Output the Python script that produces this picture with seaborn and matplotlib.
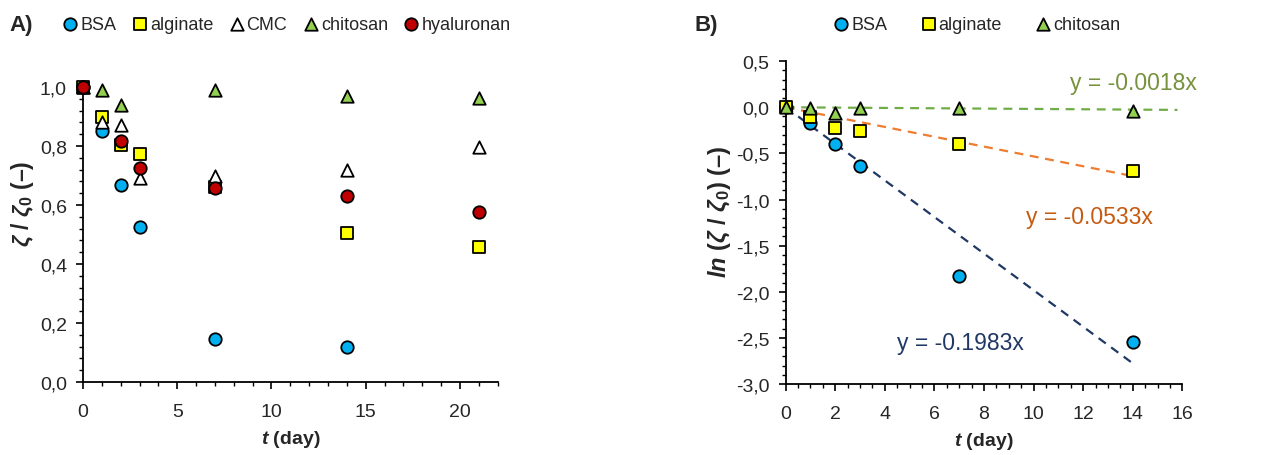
import matplotlib
matplotlib.use('Agg')
import matplotlib.pyplot as plt
from matplotlib.ticker import MultipleLocator, FuncFormatter
import seaborn as sns
import numpy as np

# ---- data ----
# panel A: zeta / zeta0 vs t
t_bsa_a = [0, 1, 2, 3, 7, 14]
bsa_a = [1.0, 0.85, 0.668, 0.526, 0.146, 0.12]
t_alg_a = [0, 1, 2, 3, 7, 14, 21]
alg_a = [1.0, 0.90, 0.805, 0.773, 0.66, 0.505, 0.459]
t_cmc_a = [0, 1, 2, 3, 7, 14, 21]
cmc_a = [1.0, 0.88, 0.87, 0.69, 0.70, 0.72, 0.797]
t_chi_a = [0, 1, 2, 7, 14, 21]
chi_a = [1.0, 0.99, 0.94, 0.99, 0.97, 0.963]
t_hya_a = [0, 2, 3, 7, 14, 21]
hya_a = [1.0, 0.817, 0.725, 0.657, 0.632, 0.576]

# panel B: ln(zeta / zeta0) vs t
t_b = [0, 1, 2, 3, 7, 14]
bsa_b = [0.0, -0.17, -0.40, -0.636, -1.83, -2.54]
alg_b = [0.0, -0.11, -0.22, -0.26, -0.40, -0.69]
chi_b = [0.0, -0.01, -0.06, -0.01, -0.01, -0.04]

# zero-intercept trend lines
slopes = {'BSA': -0.1983, 'alginate': -0.0533, 'chitosan': -0.0018}
fit_end = {'BSA': 14, 'alginate': 14, 'chitosan': 15.8}

colors = {'BSA': '#00B0F0', 'alginate': '#FFFF00', 'CMC': '#FFFFFF',
          'chitosan': '#92D050', 'hyaluronan': '#C00000'}
markers = {'BSA': 'o', 'alginate': 's', 'CMC': '^', 'chitosan': '^', 'hyaluronan': 'o'}
line_colors = {'BSA': '#1F3864', 'alginate': '#ED7D31', 'chitosan': '#70AD47'}
text_colors = {'BSA': '#1F3864', 'alginate': '#C55A11', 'chitosan': '#76923C'}

sns.set_style('ticks')
plt.rcParams['font.family'] = ['Liberation Sans', 'DejaVu Sans']
plt.rcParams['mathtext.fontset'] = 'custom'
plt.rcParams['mathtext.it'] = 'Liberation Sans:italic:bold'
plt.rcParams['mathtext.rm'] = 'Liberation Sans:bold'
plt.rcParams['mathtext.bf'] = 'Liberation Sans:bold'

fig = plt.figure(figsize=(12.88, 4.56), dpi=100)
axA = fig.add_axes([0.0644, 0.160, 0.322, 0.647])
axB = fig.add_axes([0.610, 0.1557, 0.308, 0.708])

comma = FuncFormatter(lambda v, p: f'{v:.1f}'.replace('.', ','))


def scatter(ax, x, y, name):
    sns.scatterplot(x=x, y=y, ax=ax, marker=markers[name], color=colors[name],
                    edgecolor='black', linewidth=1.3, s=80, label=name,
                    zorder=5, clip_on=False, legend=False)


# panel A
scatter(axA, t_bsa_a, bsa_a, 'BSA')
scatter(axA, t_alg_a, alg_a, 'alginate')
scatter(axA, t_cmc_a, cmc_a, 'CMC')
scatter(axA, t_chi_a, chi_a, 'chitosan')
scatter(axA, t_hya_a, hya_a, 'hyaluronan')

axA.set_xlim(0, 22)
axA.set_ylim(0, 1.0)
axA.xaxis.set_major_locator(MultipleLocator(5))
axA.xaxis.set_minor_locator(MultipleLocator(1))
axA.yaxis.set_major_locator(MultipleLocator(0.2))
axA.yaxis.set_minor_locator(MultipleLocator(0.04))
axA.yaxis.set_major_formatter(comma)
axA.set_xlabel(r'$t$ (day)', fontsize=14, fontweight='bold', labelpad=6)
axA.set_ylabel(r'$\zeta$ / $\zeta_0$ (–)', fontsize=16.5, fontweight='bold')
axA.yaxis.set_label_coords(-0.112, 0.607)

# panel B
scatter(axB, t_b, bsa_b, 'BSA')
scatter(axB, t_b, alg_b, 'alginate')
scatter(axB, t_b, chi_b, 'chitosan')
hB, lB = axB.get_legend_handles_labels()

for name in ['BSA', 'alginate', 'chitosan']:
    xs = np.array([0, fit_end[name]])
    sns.lineplot(x=xs, y=slopes[name] * xs, ax=axB, color=line_colors[name],
                 linestyle=(0, (4, 3)), linewidth=1.6, zorder=3, legend=False)
if axB.get_legend() is not None:
    axB.get_legend().remove()

axB.text(16.6, 0.27, 'y = -0.0018x', color=text_colors['chitosan'], fontsize=16.5,
         ha='right', va='center', clip_on=False)
axB.text(9.7, -1.18, 'y = -0.0533x', color=text_colors['alginate'], fontsize=16.5,
         ha='left', va='center')
axB.text(4.5, -2.55, 'y = -0.1983x', color=text_colors['BSA'], fontsize=16.5,
         ha='left', va='center')

axB.set_xlim(0, 16)
axB.set_ylim(-3.0, 0.5)
axB.xaxis.set_major_locator(MultipleLocator(2))
axB.xaxis.set_minor_locator(MultipleLocator(0.5))
axB.yaxis.set_major_locator(MultipleLocator(0.5))
axB.yaxis.set_minor_locator(MultipleLocator(0.1))
axB.yaxis.set_major_formatter(comma)
axB.set_xlabel(r'$t$ (day)', fontsize=14, fontweight='bold', labelpad=6)
axB.set_ylabel(r'$ln$ ($\zeta$ / $\zeta_0$) (–)', fontsize=17, fontweight='bold')
axB.yaxis.set_label_coords(-0.132, 0.536)

for ax in (axA, axB):
    sns.despine(ax=ax)
    ax.spines['left'].set_color('black')
    ax.spines['bottom'].set_color('black')
    ax.spines['left'].set_linewidth(1.3)
    ax.spines['bottom'].set_linewidth(1.3)
    ax.tick_params(which='major', direction='out', length=5, width=1.2,
                   color='black', labelsize=14)
    ax.tick_params(axis='x', which='major', pad=10)
    ax.tick_params(axis='y', which='major', pad=6.5)
    ax.tick_params(which='minor', direction='out', length=3, width=1.0, color='black')
    ax.grid(False)

# legends above each panel
hA, lA = axA.get_legend_handles_labels()
fig.legend(hA, lA, loc='center', bbox_to_anchor=(0.222, 0.945), ncol=5,
           frameon=False, fontsize=13, handletextpad=0.05, columnspacing=0.8,
           handlelength=1.0)
fig.legend(hB, lB, loc='center', bbox_to_anchor=(0.758, 0.945), ncol=3,
           frameon=False, fontsize=13, handletextpad=0.05, columnspacing=1.8,
           handlelength=1.0)

fig.text(0.007, 0.945, 'A)', fontsize=16, fontweight='bold', va='center')
fig.text(0.539, 0.945, 'B)', fontsize=16, fontweight='bold', va='center')

plt.savefig('out.png', dpi=100)
